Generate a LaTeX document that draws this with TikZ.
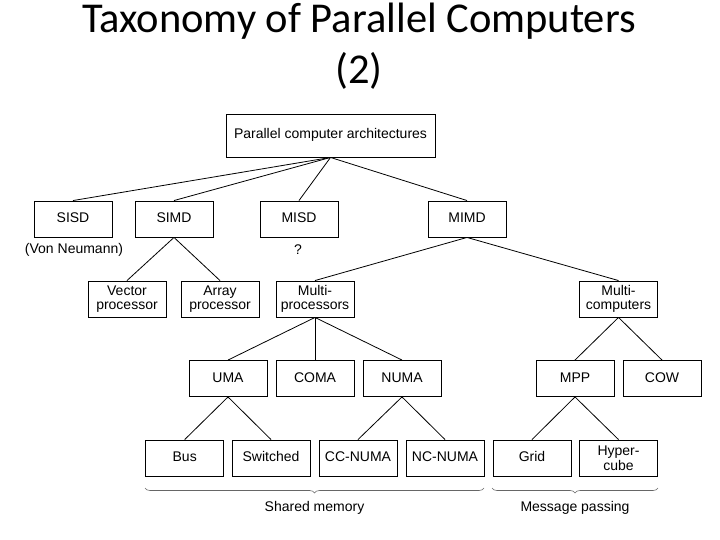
\documentclass[tikz,border=0pt]{standalone}
\usepackage{fontspec}
\setmainfont{Liberation Sans}
\newfontfamily\titlefont{Carlito}
\usetikzlibrary{decorations.pathreplacing}
\begin{document}
\begin{tikzpicture}[x=1pt,y=-1pt,
  boxbase/.style={draw,line width=0.9pt,minimum width=78pt,minimum height=36pt,inner sep=0pt,
    align=center,font=\fontsize{14}{14.5}\selectfont},
  box/.style={boxbase,text height=10pt,text depth=3pt},
  box2/.style={boxbase},
  lbl/.style={inner sep=0pt,font=\fontsize{14}{14.5}\selectfont},
  edge/.style={line width=0.8pt},
  brc/.style={line width=0.6pt,draw=black!60,decorate,decoration={brace,mirror,amplitude=5pt}},
  ttl/.style={inner sep=0pt,anchor=base,font=\titlefont\fontsize{42.5}{52}\selectfont}]
\useasboundingbox (0,0) rectangle (720,540);
\node[ttl] (t1) at (359,33) {Taxonomy of Parallel Computers};
\node[ttl] (t2) at (359,84) {(2)};

\node[box,minimum width=209pt,minimum height=43pt] (root) at (330.5,135.5) {Parallel computer architectures};

\node[box] (sisd) at (73,219) {SISD};
\node[box] (simd) at (174,219) {SIMD};
\node[box] (misd) at (299,219) {MISD};
\node[box] (mimd) at (467,219) {MIMD};
\node[lbl] (vn) at (74,250) {(Von Neumann)};
\node[lbl] (q) at (298,250) {?};

\node[box2] (vec) at (127,299) {Vector\\processor};
\node[box2] (arr) at (220,299) {Array\\processor};
\node[box2] (mp) at (315,299) {Multi-\\processors};
\node[box2] (mc) at (618.5,299) {Multi-\\computers};

\node[box] (uma) at (228,378.5) {UMA};
\node[box] (coma) at (315,378.5) {COMA};
\node[box] (numa) at (402,378.5) {NUMA};
\node[box] (mpp) at (575,378.5) {MPP};
\node[box] (cow) at (662,378.5) {COW};

\node[box] (bus) at (184.7,458) {Bus};
\node[box] (sw) at (271,458) {Switched};
\node[box] (cc) at (358,458) {CC-NUMA};
\node[box] (nc) at (445,458) {NC-NUMA};
\node[box] (grid) at (532,458) {Grid};
\node[box2] (hyp) at (618.5,458) {Hyper-\\cube};

\foreach \c in {sisd,simd,misd,mimd} \draw[edge] (root.south) -- (\c.north);
\foreach \c in {vec,arr} \draw[edge] (simd.south) -- (\c.north);
\foreach \c in {mp,mc} \draw[edge] (mimd.south) -- (\c.north);
\foreach \c in {uma,coma,numa} \draw[edge] (mp.south) -- (\c.north);
\foreach \c in {mpp,cow} \draw[edge] (mc.south) -- (\c.north);
\foreach \c in {bus,sw} \draw[edge] (uma.south) -- (\c.north);
\foreach \c in {cc,nc} \draw[edge] (numa.south) -- (\c.north);
\foreach \c in {grid,hyp} \draw[edge] (mpp.south) -- (\c.north);

\coordinate (s1) at (145,488);
\coordinate (s2) at (484,488);
\coordinate (m1) at (492,488);
\coordinate (m2) at (658,488);
\draw[brc] (s1) -- (s2);
\draw[brc] (m1) -- (m2);
\node[lbl] (shm) at (314.5,508) {Shared memory};
\node[lbl] (msg) at (575,508) {Message passing};
\end{tikzpicture}
\end{document}
